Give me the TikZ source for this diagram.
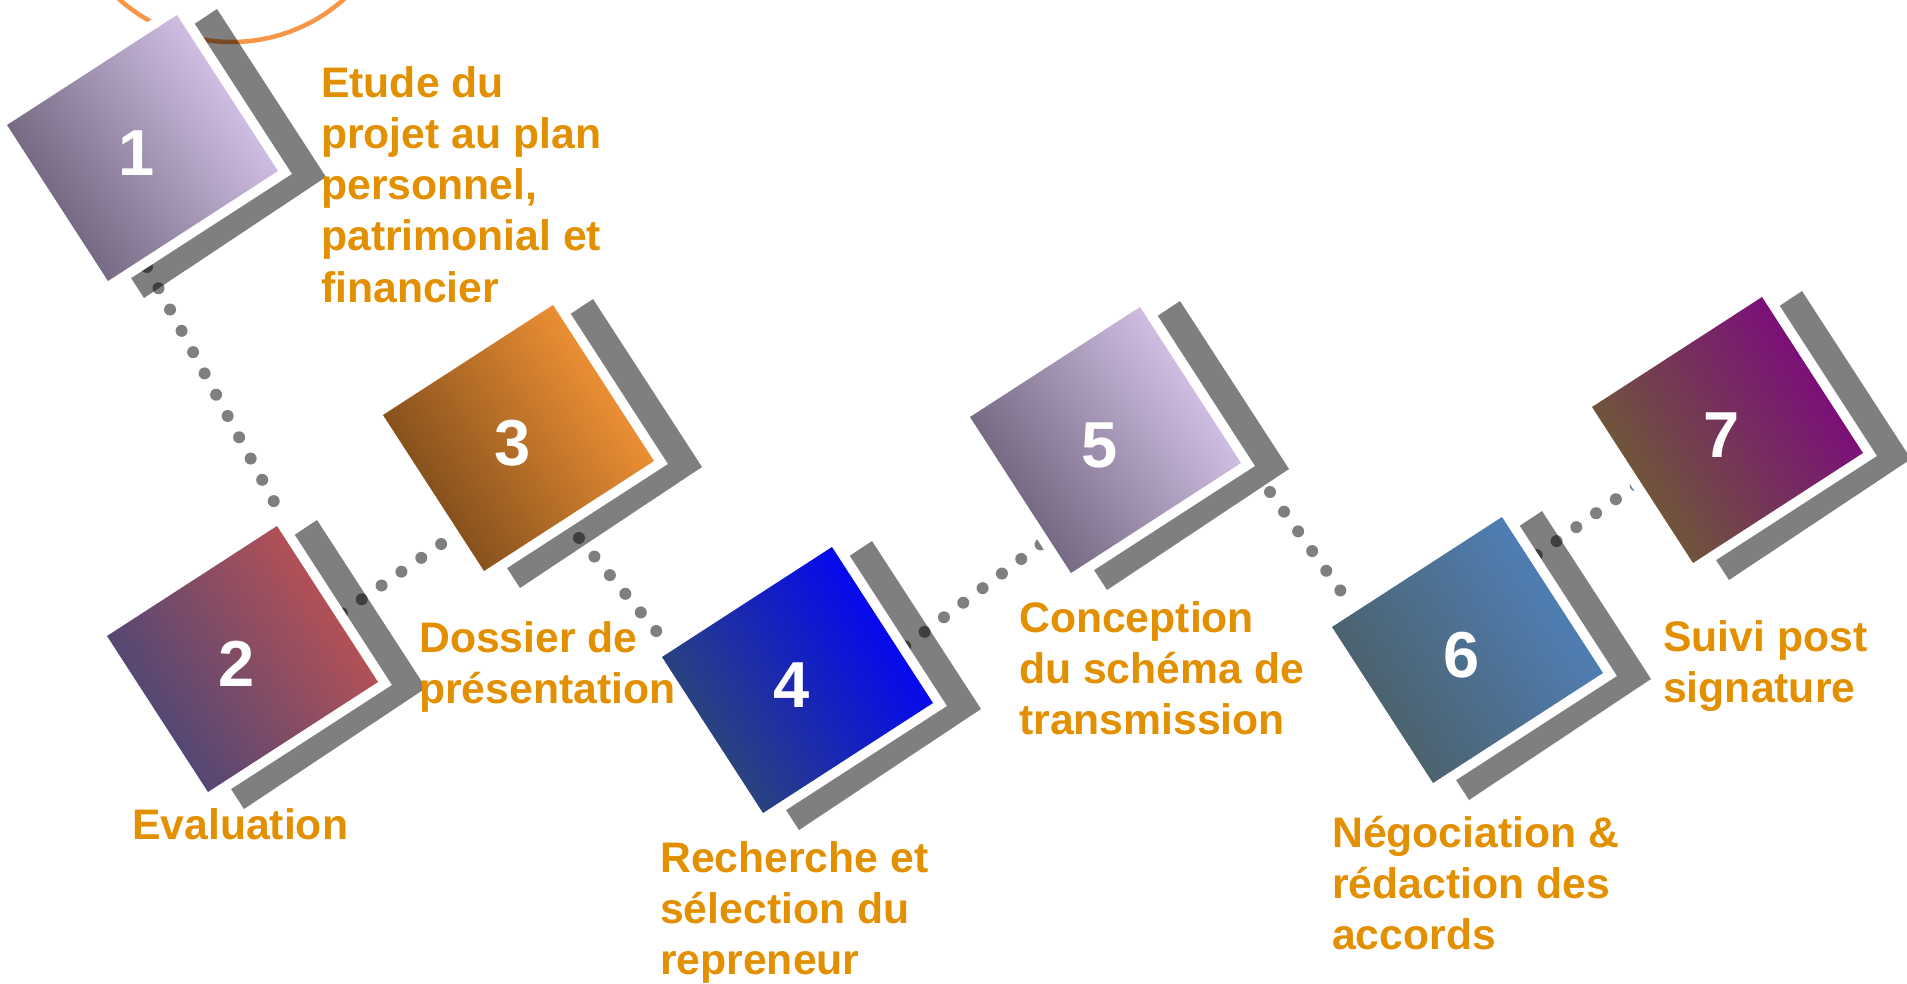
\documentclass[tikz,border=0pt]{standalone}
\usepackage{fontspec}
\setmainfont{Liberation Sans}
\definecolor{labcol}{RGB}{226,143,0}
\definecolor{circcol}{RGB}{247,150,70}
\definecolor{d1}{RGB}{104,93,117}\definecolor{l1}{RGB}{221,202,240}
\definecolor{d2}{RGB}{70,70,120}\definecolor{l2}{RGB}{192,82,82}
\definecolor{d3}{RGB}{120,72,25}\definecolor{l3}{RGB}{250,152,55}
\definecolor{d4}{RGB}{48,75,110}\definecolor{l4}{RGB}{0,0,255}
\definecolor{d6}{RGB}{75,94,100}\definecolor{l6}{RGB}{80,130,190}
\definecolor{d7}{RGB}{110,95,50}\definecolor{l7}{RGB}{125,5,130}
\tikzset{
  shadowbox/.style={fill=black, fill opacity=0.5},
  dotline/.style={draw=black, draw opacity=0.5, line width=12pt, line cap=round, dash pattern=on 0pt off 24.2pt},
  whitebox/.style={draw=white, line width=20pt, line join=miter, fill=white},
  numtext/.style={text=white, font=\fontsize{65}{65}\selectfont\bfseries, inner sep=0pt},
  steptext/.style={text=labcol, font=\fontsize{42.7}{51.3}\selectfont\bfseries, align=left, inner sep=0pt, anchor=base west},
}
\begin{document}
\begin{tikzpicture}[x=1pt,y=-1pt]
\useasboundingbox (0,0) rectangle (1907,983);
\clip (0,0) rectangle (1907,983);
% orange circle
\draw[circcol, line width=4.5pt] (231.5,-127) circle[radius=169];
% shadows
\foreach \lx/\ly in {7/125, 107/636, 383/415, 662/657, 970/417, 1332/627, 1592/407}{
  \fill[shadowbox] (\lx+28,\ly+5) -- (\lx+210,\ly-116) -- (\lx+319,\ly+52) -- (\lx+137,\ly+173) -- cycle;
}
% connector end points
\coordinate (c12a) at (135.5,245.7); \coordinate (c12b) at (285,522);
\coordinate (c23a) at (322,627);     \coordinate (c23b) at (480,517);
\coordinate (c34a) at (563.5,519.3); \coordinate (c34b) at (672,650);
\coordinate (c45a) at (886,661);     \coordinate (c45b) at (1057,532);
\coordinate (c56a) at (1270,492);    \coordinate (c56b) at (1355,611);
\coordinate (c67a) at (1517,569);    \coordinate (c67b) at (1653,473);
\draw[dotline] (c12a) -- (c12b);
\draw[dotline] (c23a) -- (c23b);
\draw[dotline] (c34a) -- (c34b);
\draw[dotline] (c45a) -- (c45b);
\draw[dotline] (c56a) -- (c56b);
\draw[dotline] (c67a) -- (c67b);
% tiles
\foreach \n/\lx/\ly/\c in {1/7/125/1, 2/107/636/2, 3/383/415/3, 4/662/657/4, 5/970/417/1, 6/1332/627/6, 7/1592/407/7}{
  \filldraw[whitebox] (\lx,\ly) -- ++(170,-110) -- ++(101,156) -- ++(-170,110) -- cycle;
  \shade[left color=d\c, right color=l\c, shading angle=123] (\lx,\ly) -- ++(170,-110) -- ++(101,156) -- ++(-170,110) -- cycle;
  \node[numtext] (n\n) at (\lx+129.5,\ly+28) {\n};
}
% labels (anchor is the baseline of the last line)
\node[steptext] (e1) at (321,302.2) {Etude du\\projet au plan\\personnel,\\patrimonial et\\financier};
\node[steptext] (e2) at (132,839) {Evaluation};
\node[steptext] (e3) at (419,703.3) {Dossier de\\présentation};
\node[steptext] (e4) at (660,974.6) {Recherche et\\sélection du\\repreneur};
\node[steptext] (e5) at (1019,734.6) {Conception\\du schéma de\\transmission};
\node[steptext] (e6) at (1332,949.6) {Négociation \&\\rédaction des\\accords};
\node[steptext] (e7) at (1663,702.3) {Suivi post\\signature};
\end{tikzpicture}
\end{document}
